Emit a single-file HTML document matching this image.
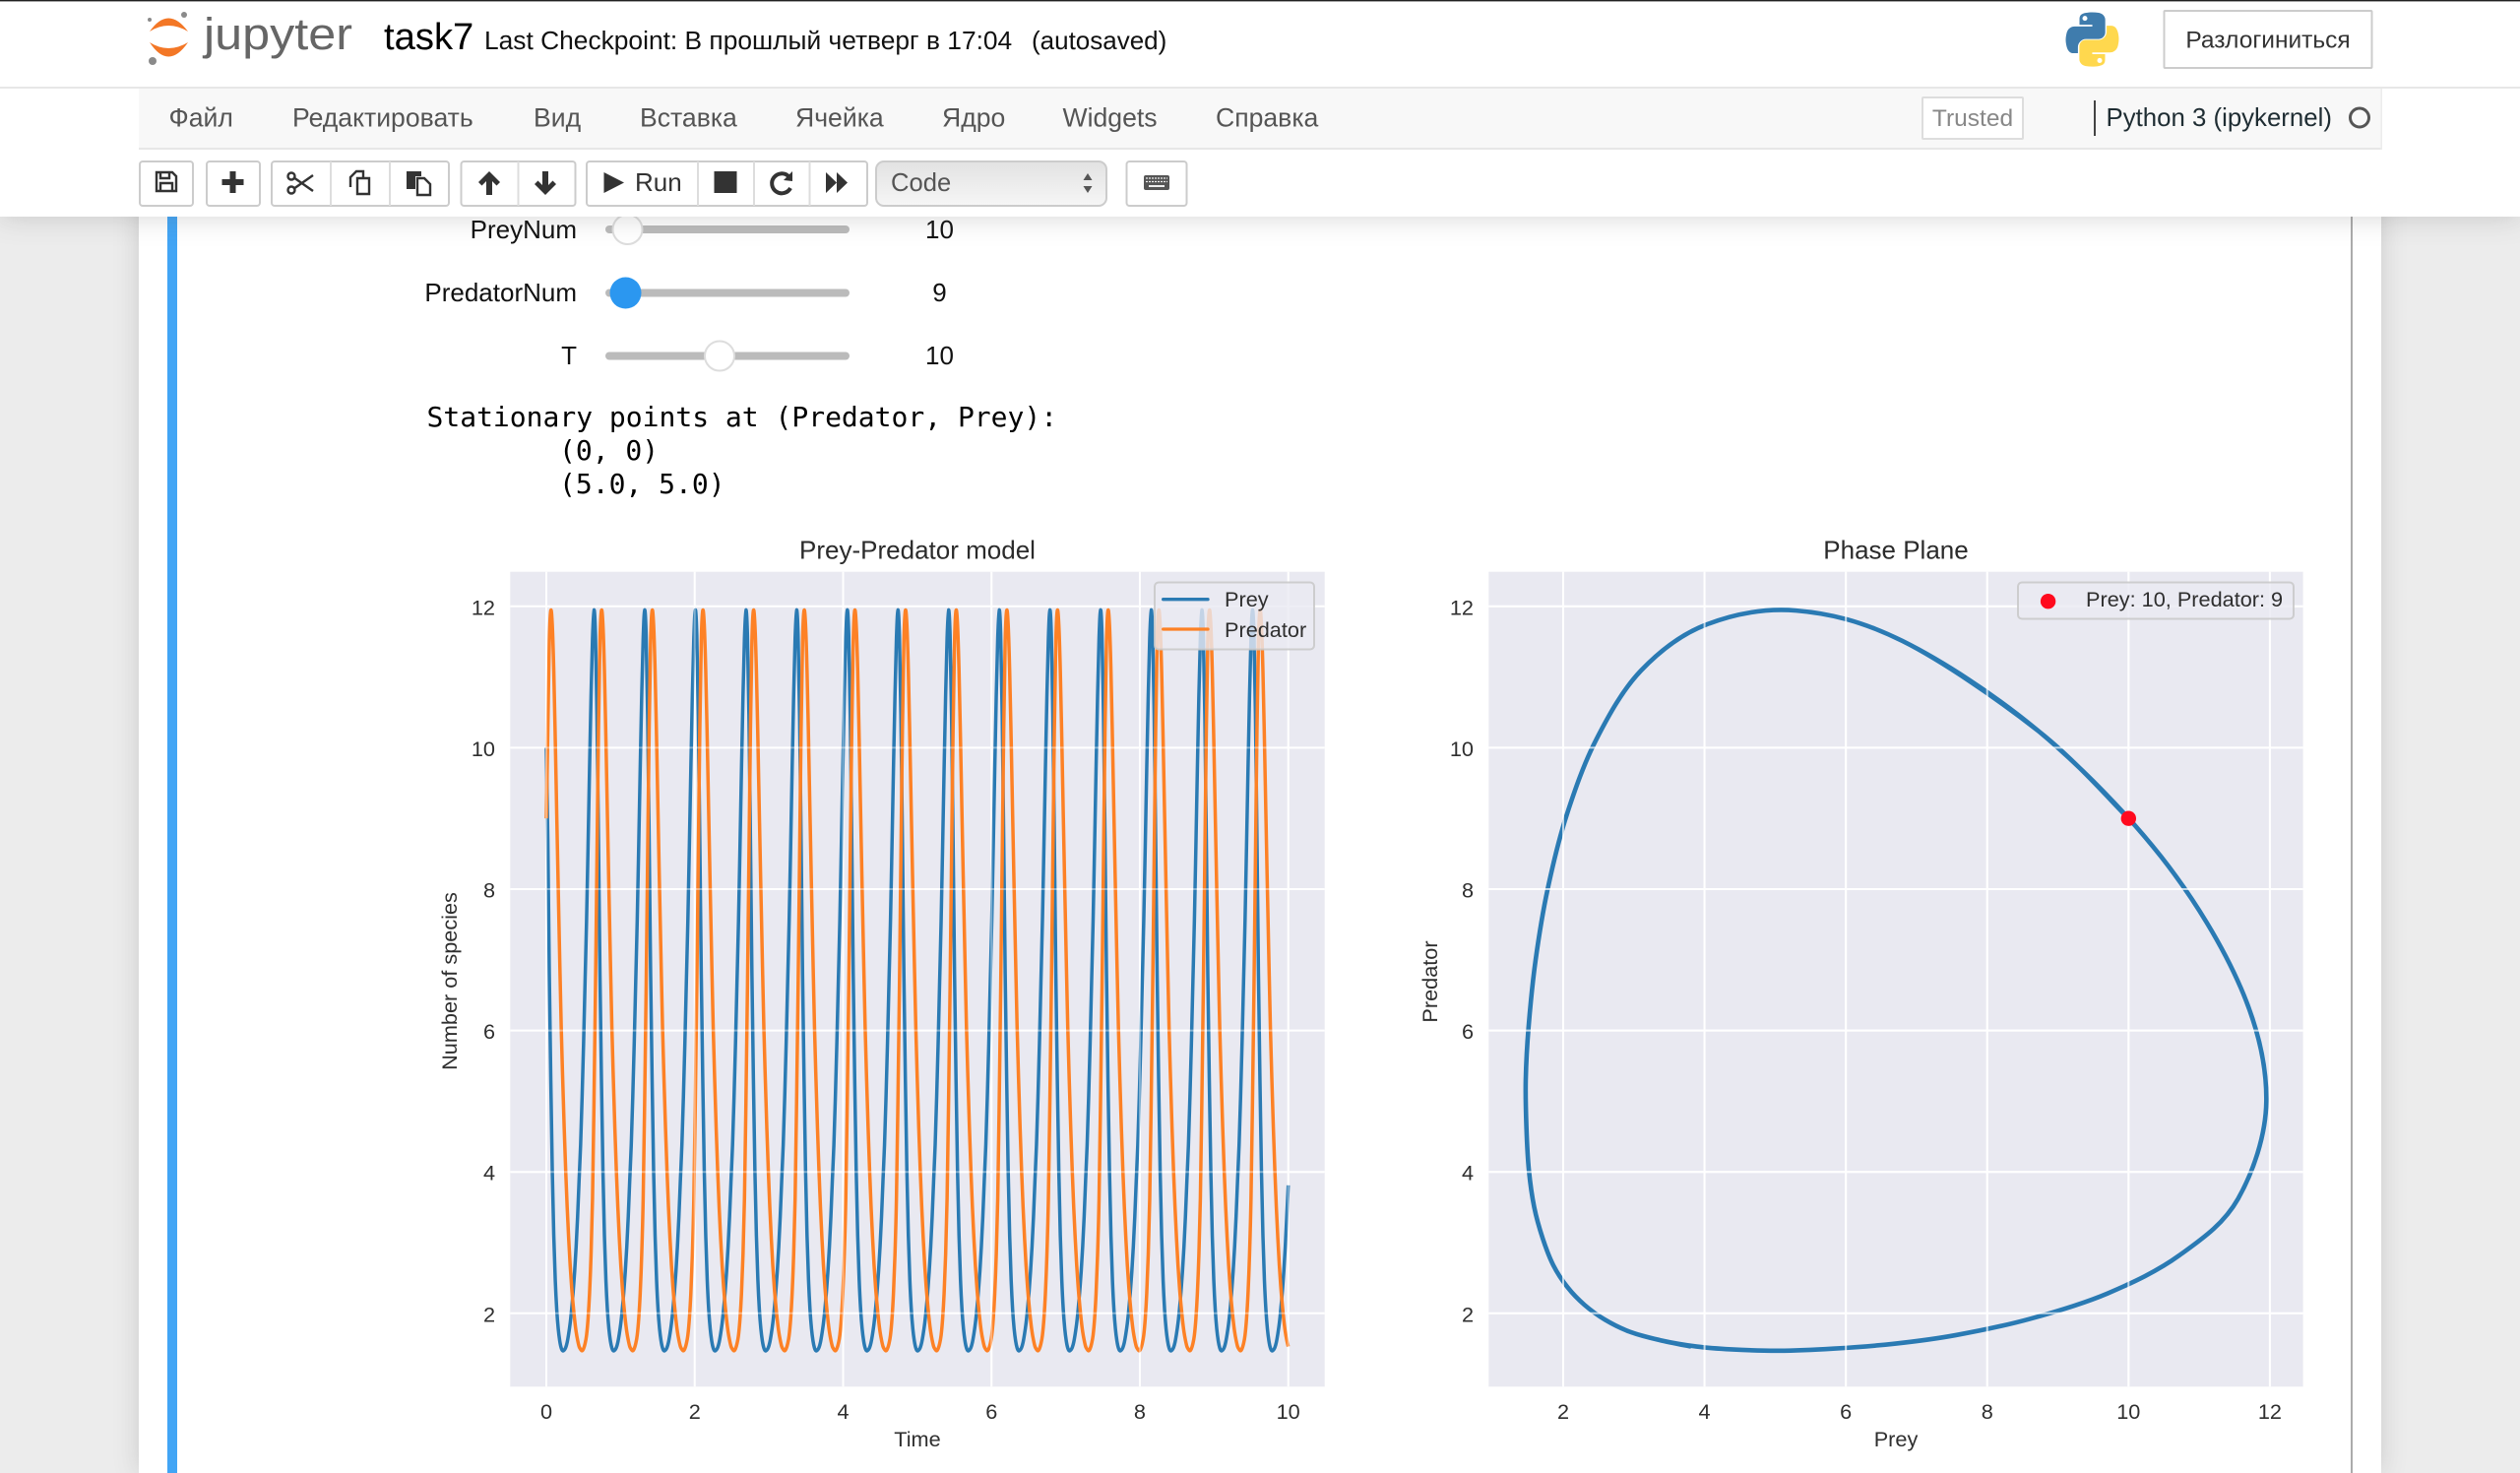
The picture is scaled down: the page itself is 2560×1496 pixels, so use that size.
<!DOCTYPE html>
<html lang="ru">
<head>
<meta charset="utf-8">
<title>task7 - Jupyter Notebook</title>
<style>
html,body{margin:0;padding:0;width:2560px;height:1496px;overflow:hidden;background:#ececec;font-family:"Liberation Sans",sans-serif}
#container{position:absolute;left:141px;top:0;width:2278px;height:1496px;background:#fff;box-shadow:0 0 24px rgba(87,87,87,.22)}
#content{position:absolute;left:0;top:0}
#header{position:absolute;left:0;top:0;width:2560px;height:220px;background:#fff;box-shadow:0 0 26px rgba(87,87,87,.25)}
#headerSvg{position:absolute;left:0;top:0}
text{font-family:"Liberation Sans",sans-serif}
.menu{font-size:26.6px;fill:#555}
.tick{font-size:21.7px;fill:#2f2f2f}
.lbl{font-size:21.7px;fill:#2f2f2f}
.ttl{font-size:26px;fill:#2b2b2b}
.ctl{font-size:26px;fill:#111}
.mono{font-family:"DejaVu Sans Mono",monospace;font-size:28px;fill:#000}
.btn{fill:#fff;stroke:#ccc;stroke-width:2}
.sep{stroke:#ddd;stroke-width:2}
.ic{fill:#333}
.ico{fill:none;stroke:#333;stroke-width:2.4}
</style>
</head>
<body>
<div id="container"></div>
<svg id="content" width="2560" height="1496" viewBox="0 0 2560 1496">
  <rect x="170" y="200" width="10" height="1296" fill="#42a5f5"/>
  <rect x="2388" y="200" width="2" height="1296" fill="#ababab"/>

  <g>
    <text class="ctl" x="586" y="242" text-anchor="end">PreyNum</text>
    <rect x="615" y="229" width="248" height="8" rx="4" fill="#bbb"/>
    <circle cx="637.5" cy="233" r="15" fill="#fff" stroke="#ddd" stroke-width="2"/>
    <text class="ctl" x="954.5" y="242" text-anchor="middle">10</text>
  </g>
  <g>
    <text class="ctl" x="586" y="306" text-anchor="end">PredatorNum</text>
    <rect x="615" y="293.5" width="248" height="8" rx="4" fill="#bbb"/>
    <circle cx="635.5" cy="297.5" r="16" fill="#2b97f0"/>
    <text class="ctl" x="954.5" y="306" text-anchor="middle">9</text>
  </g>
  <g>
    <text class="ctl" x="586" y="370" text-anchor="end">T</text>
    <rect x="615" y="357.5" width="248" height="8" rx="4" fill="#bbb"/>
    <circle cx="731" cy="361.5" r="15" fill="#fff" stroke="#ddd" stroke-width="2"/>
    <text class="ctl" x="954.5" y="370" text-anchor="middle">10</text>
  </g>

  <g>
    <text class="mono" x="433.5" y="433">Stationary points at (Predator, Prey):</text>
    <text class="mono" x="568" y="467">(0, 0)</text>
    <text class="mono" x="568" y="501">(5.0, 5.0)</text>
  </g>

  <g>
    <text class="ttl" x="932" y="567.5" text-anchor="middle">Prey-Predator model</text>
    <rect x="518.3" y="580.7" width="827.4" height="827.6" fill="#e9e9f1"/>
    <g id="gridUnderA"></g>
    <g id="linesA"></g>
    <g id="gridOverA"></g>
    <g id="ticksA"></g>
    <text class="lbl" x="932" y="1469" text-anchor="middle">Time</text>
    <text class="lbl" transform="translate(464 996.5) rotate(-90)" text-anchor="middle">Number of species</text>
    <g>
      <rect x="1173" y="591.5" width="162" height="68" rx="4" fill="rgba(234,234,242,.8)" stroke="rgba(200,200,200,.85)" stroke-width="2"/>
      <line x1="1181.7" x2="1227" y1="608.7" y2="608.7" stroke="#2a7ab3" stroke-width="3.3" stroke-linecap="round"/>
      <text class="tick" x="1244" y="616">Prey</text>
      <line x1="1181.7" x2="1227" y1="639" y2="639" stroke="#fd8125" stroke-width="3.3" stroke-linecap="round"/>
      <text class="tick" x="1244" y="647">Predator</text>
    </g>
  </g>

  <g>
    <text class="ttl" x="1926" y="567.5" text-anchor="middle">Phase Plane</text>
    <rect x="1512.3" y="580.7" width="827.3" height="827.6" fill="#e9e9f1"/>
    <g id="gridUnderB"></g>
    <g id="linesB"></g>
    <g id="gridOverB"></g>
    <g id="pointB"></g>
    <g id="ticksB"></g>
    <text class="lbl" x="1926" y="1469" text-anchor="middle">Prey</text>
    <text class="lbl" transform="translate(1460 997) rotate(-90)" text-anchor="middle">Predator</text>
    <g>
      <rect x="2050" y="591.5" width="280" height="37" rx="4" fill="rgba(234,234,242,.8)" stroke="rgba(200,200,200,.85)" stroke-width="2"/>
      <circle cx="2080.6" cy="610.7" r="7.7" fill="#ff0a1e"/>
      <text class="tick" x="2119" y="616">Prey: 10, Predator: 9</text>
    </g>
  </g>
</svg>

<div id="header"></div>
<svg id="headerSvg" width="2560" height="220" viewBox="0 0 2560 220">
  <rect x="0" y="0" width="2560" height="1.4" fill="#222"/>
  <g>
    <path d="M152 32Q171 5 191 32Q171 20 152 32Z" fill="#f37726"/>
    <path d="M152 43Q171 72 191 43Q171 55 152 43Z" fill="#f37726"/>
    <circle cx="187" cy="15" r="3" fill="#8a8a8a"/>
    <circle cx="152" cy="20" r="2" fill="#8a8a8a"/>
    <circle cx="155" cy="62" r="4" fill="#8a8a8a"/>
    <text x="207" y="50" font-size="45" fill="#666" textLength="151" lengthAdjust="spacingAndGlyphs">jupyter</text>
  </g>
  <text x="390" y="50" font-size="38.2" fill="#000">task7</text>
  <text x="492" y="50" font-size="26.35" fill="#111">Last Checkpoint: В прошлый четверг в 17:04</text>
  <text x="1048" y="50" font-size="26" fill="#111">(autosaved)</text>

  <g transform="translate(2098 12) scale(.5 .51)">
    <path d="M54.9 .9C50.3 .9 46 1.3 42.2 2C31 4 29 8.1 29 15.7V25.8H55.1V29.1H19.2C11.6 29.1 5 33.7 2.9 42.4C.5 52.4 .4 58.6 2.9 69C4.8 76.8 9.2 82.4 16.8 82.4H25.8V70.4C25.8 61.7 33.3 54.1 42.2 54.1H68.3C75.5 54.1 81.3 48.1 81.3 40.8V15.7C81.3 8.6 75.3 3.3 68.3 2C63.8 1.3 59.2 .9 54.9 .9Z" fill="#3f7cad"/>
    <path transform="rotate(180 55 55)" d="M54.9 .9C50.3 .9 46 1.3 42.2 2C31 4 29 8.1 29 15.7V25.8H55.1V29.1H19.2C11.6 29.1 5 33.7 2.9 42.4C.5 52.4 .4 58.6 2.9 69C4.8 76.8 9.2 82.4 16.8 82.4H25.8V70.4C25.8 61.7 33.3 54.1 42.2 54.1H68.3C75.5 54.1 81.3 48.1 81.3 40.8V15.7C81.3 8.6 75.3 3.3 68.3 2C63.8 1.3 59.2 .9 54.9 .9Z" fill="#ffd84e"/>
    <circle cx="40" cy="13" r="5" fill="#fff"/>
    <circle cx="70" cy="97" r="5" fill="#fff"/>
  </g>
  <g>
    <rect x="2198.5" y="11" width="211" height="58" fill="#fff" stroke="#ccc" stroke-width="2" rx="1"/>
    <text x="2304" y="48.5" font-size="24.5" fill="#333" text-anchor="middle">Разлогиниться</text>
  </g>

  <rect x="0" y="88" width="2560" height="2" fill="#e7e7e7"/>
  <rect x="141" y="90" width="2278" height="61" fill="#f8f8f8"/>
  <rect x="141" y="150" width="2278" height="2" fill="#e7e7e7"/>
  <rect x="2418.5" y="90" width="1.5" height="62" fill="#ececec"/>
  <text class="menu" x="171.5" y="128.5">Файл</text>
  <text class="menu" x="297" y="128.5">Редактировать</text>
  <text class="menu" x="542" y="128.5">Вид</text>
  <text class="menu" x="650" y="128.5">Вставка</text>
  <text class="menu" x="808" y="128.5">Ячейка</text>
  <text class="menu" x="957" y="128.5">Ядро</text>
  <text class="menu" x="1079.5" y="128.5">Widgets</text>
  <text class="menu" x="1235" y="128.5">Справка</text>
  <g>
    <rect x="1953" y="99" width="102" height="42" fill="#fff" stroke="#ddd" stroke-width="2" rx="1"/>
    <text x="2004" y="128" font-size="24.5" fill="#888" text-anchor="middle">Trusted</text>
  </g>
  <rect x="2127" y="102" width="2" height="36" fill="#444"/>
  <text x="2139.5" y="128" font-size="25.8" fill="#1f2d33">Python 3 (ipykernel)</text>
  <circle cx="2397" cy="119.5" r="9.5" fill="none" stroke="#555" stroke-width="3"/>

  <g>
    <rect class="btn" x="142" y="164" width="54" height="45" rx="3"/>
    <path class="ico" d="M159 175h16l4 4v15h-20zM163 175v6h9v-6M163 194v-8h12v8"/>
  </g>
  <g>
    <rect class="btn" x="210" y="164" width="54" height="45" rx="3"/>
    <path class="ic" d="M233.500 176h6v8h8v6h-8v8h-6v-8h-8v-6h8z" transform="translate(0 -2)"/>
  </g>
  <g>
    <rect class="btn" x="276" y="164" width="180" height="45" rx="3"/>
    <line class="sep" x1="336" x2="336" y1="164" y2="209"/>
    <line class="sep" x1="396" x2="396" y1="164" y2="209"/>
    <g>
      <path class="ico" d="M298 180L318 194M298 192L318 178" stroke-width="1.6"/>
      <circle class="ico" cx="296" cy="179" r="3.500" stroke-width="1.6"/>
      <circle class="ico" cx="296" cy="193" r="3.500" stroke-width="1.6"/>
    </g>
    <g>
      <path class="ico" d="M356 190V180l6-6h7v6M363 181h12v16h-12z" stroke-width="2"/>
    </g>
    <g>
      <path class="ic" d="M413 174h15v5h-6v13h-9z"/>
      <path class="ico" d="M424 181h7l6 6v11h-13z" stroke-width="2.200"/>
    </g>
  </g>
  <g>
    <rect class="btn" x="468.500" y="164" width="116" height="45" rx="3"/>
    <line class="sep" x1="526.500" x2="526.500" y1="164" y2="209"/>
    <path class="ic" d="M497 174l11 11-3.500 3.500-4.500-4.500v14h-6v-14l-4.500 4.500-3.500-3.500z"/>
    <path class="ic" d="M554 198l11-11-3.500-3.500-4.500 4.500v-14h-6v14l-4.500-4.500-3.500 3.500z"/>
  </g>
  <g>
    <rect class="btn" x="596" y="164" width="285" height="45" rx="3"/>
    <line class="sep" x1="709" x2="709" y1="164" y2="209"/>
    <line class="sep" x1="766" x2="766" y1="164" y2="209"/>
    <line class="sep" x1="822.500" x2="822.500" y1="164" y2="209"/>
    <path class="ic" d="M613.500 175L634 185.500L613.500 196Z"/>
    <text x="645" y="194" font-size="26" fill="#333">Run</text>
    <rect class="ic" x="725.500" y="174" width="23" height="22"/>
    <path d="M801 179A10 10 0 1 0 803 191" fill="none" stroke="#333" stroke-width="4"/>
    <path class="ic" d="M796 183L805 174V184Z"/>
    <path class="ic" d="M839 175L850 185.500L839 196ZM850 175L861 185.500L850 196Z"/>
  </g>
  <g>
    <defs><linearGradient id="selBg" x1="0" y1="0" x2="0" y2="1"><stop offset="0" stop-color="#e2e2e2"/><stop offset="1" stop-color="#f6f6f6"/></linearGradient></defs>
    <rect x="890" y="164" width="234" height="45" rx="8" fill="url(#selBg)" stroke="#ccc" stroke-width="2"/>
    <text x="905" y="194" font-size="25.6" fill="#555">Code</text>
    <path d="M1105 176l4.500 7h-9zM1105 196l4.500-7h-9z" fill="#555"/>
  </g>
  <g>
    <rect class="btn" x="1144.500" y="164" width="61" height="45" rx="3"/>
    <rect x="1162" y="178" width="26" height="15" rx="2" fill="#555"/>
    <path d="M1164 181h22M1164 184.500h22" stroke="#eee" stroke-width="1.200" stroke-dasharray="2 1" fill="none"/>
    <rect x="1167" y="188" width="16" height="2" fill="#eee"/>
  </g>
</svg>

<script>
const timeRange = [0, 10];
const axisTicks = [2, 4, 6, 8, 10, 12];
const timeTicks = [0, 2, 4, 6, 8, 10];
const phaseXTicks = [2, 4, 6, 8, 10, 12];
const startPrey = [10];
const startPredator = [9];
const prey = [
10,8.72,6.8,5.3,4.02,3.1,2.47,2.05,1.78,1.61,1.51,1.47,1.48,1.515,1.59,1.71,1.86,2.06,2.3,2.59,2.94,3.37,3.89,4.38,5.05,5.82,6.69,7.55,8.6,9.7,10.72,11.55,
11.95,11.59,10.46,8.72,6.8,5.3,4.02,3.1,2.47,2.05,1.78,1.61,1.51,1.47,1.48,1.515,1.59,1.71,1.86,2.06,2.3,2.59,2.94,3.37,3.89,4.38,5.05,5.82,6.69,7.55,8.6,9.7,10.72,11.55,
11.95,11.59,10.46,8.72,6.8,5.3,4.02,3.1,2.47,2.05,1.78,1.61,1.51,1.47,1.48,1.515,1.59,1.71,1.86,2.06,2.3,2.59,2.94,3.37,3.89,4.38,5.05,5.82,6.69,7.55,8.6,9.7,10.72,11.55,
11.95,11.59,10.46,8.72,6.8,5.3,4.02,3.1,2.47,2.05,1.78,1.61,1.51,1.47,1.48,1.515,1.59,1.71,1.86,2.06,2.3,2.59,2.94,3.37,3.89,4.38,5.05,5.82,6.69,7.55,8.6,9.7,10.72,11.55,
11.95,11.59,10.46,8.72,6.8,5.3,4.02,3.1,2.47,2.05,1.78,1.61,1.51,1.47,1.48,1.515,1.59,1.71,1.86,2.06,2.3,2.59,2.94,3.37,3.89,4.38,5.05,5.82,6.69,7.55,8.6,9.7,10.72,11.55,
11.95,11.59,10.46,8.72,6.8,5.3,4.02,3.1,2.47,2.05,1.78,1.61,1.51,1.47,1.48,1.515,1.59,1.71,1.86,2.06,2.3,2.59,2.94,3.37,3.89,4.38,5.05,5.82,6.69,7.55,8.6,9.7,10.72,11.55,
11.95,11.59,10.46,8.72,6.8,5.3,4.02,3.1,2.47,2.05,1.78,1.61,1.51,1.47,1.48,1.515,1.59,1.71,1.86,2.06,2.3,2.59,2.94,3.37,3.89,4.38,5.05,5.82,6.69,7.55,8.6,9.7,10.72,11.55,
11.95,11.59,10.46,8.72,6.8,5.3,4.02,3.1,2.47,2.05,1.78,1.61,1.51,1.47,1.48,1.515,1.59,1.71,1.86,2.06,2.3,2.59,2.94,3.37,3.89,4.38,5.05,5.82,6.69,7.55,8.6,9.7,10.72,11.55,
11.95,11.59,10.46,8.72,6.8,5.3,4.02,3.1,2.47,2.05,1.78,1.61,1.51,1.47,1.48,1.515,1.59,1.71,1.86,2.06,2.3,2.59,2.94,3.37,3.89,4.38,5.05,5.82,6.69,7.55,8.6,9.7,10.72,11.55,
11.95,11.59,10.46,8.72,6.8,5.3,4.02,3.1,2.47,2.05,1.78,1.61,1.51,1.47,1.48,1.515,1.59,1.71,1.86,2.06,2.3,2.59,2.94,3.37,3.89,4.38,5.05,5.82,6.69,7.55,8.6,9.7,10.72,11.55,
11.95,11.59,10.46,8.72,6.8,5.3,4.02,3.1,2.47,2.05,1.78,1.61,1.51,1.47,1.48,1.515,1.59,1.71,1.86,2.06,2.3,2.59,2.94,3.37,3.89,4.38,5.05,5.82,6.69,7.55,8.6,9.7,10.72,11.55,
11.95,11.59,10.46,8.72,6.8,5.3,4.02,3.1,2.47,2.05,1.78,1.61,1.51,1.47,1.48,1.515,1.59,1.71,1.86,2.06,2.3,2.59,2.94,3.37,3.89,4.38,5.05,5.82,6.69,7.55,8.6,9.7,10.72,11.55,
11.95,11.59,10.46,8.72,6.8,5.3,4.02,3.1,2.47,2.05,1.78,1.61,1.51,1.47,1.48,1.515,1.59,1.71,1.86,2.06,2.3,2.59,2.94,3.37,3.89,4.38,5.05,5.82,6.69,7.55,8.6,9.7,10.72,11.55,
11.95,11.59,10.46,8.72,6.8,5.3,4.02,3.1,2.47,2.05,1.78,1.61,1.51,1.47,1.48,1.515,1.59,1.71,1.86,2.06,2.3,2.59,2.94,3.37,3.89,4.38,5.05,5.82,6.69,7.55,8.6,9.7,10.72,11.55,
11.95,11.59,10.46,8.72,6.8,5.3,4.02,3.1,2.47,2.05,1.78,1.61,1.51,1.47,1.48,1.515,1.59,1.71,1.86,2.06,2.3,2.59,2.94,3.37,3.81
];
const predator = [
9,10.24,11.51,11.94,11.74,11.09,10.12,9.05,8,7,6.05,5.3,4.62,4.02,3.5,3.06,2.68,2.37,2.12,1.91,1.74,1.62,1.53,1.49,1.47,1.5,1.57,1.69,1.92,2.28,2.82,3.62,
5,6.6,8.46,10.24,11.51,11.94,11.74,11.09,10.12,9.05,8,7,6.05,5.3,4.62,4.02,3.5,3.06,2.68,2.37,2.12,1.91,1.74,1.62,1.53,1.49,1.47,1.5,1.57,1.69,1.92,2.28,2.82,3.62,
5,6.6,8.46,10.24,11.51,11.94,11.74,11.09,10.12,9.05,8,7,6.05,5.3,4.62,4.02,3.5,3.06,2.68,2.37,2.12,1.91,1.74,1.62,1.53,1.49,1.47,1.5,1.57,1.69,1.92,2.28,2.82,3.62,
5,6.6,8.46,10.24,11.51,11.94,11.74,11.09,10.12,9.05,8,7,6.05,5.3,4.62,4.02,3.5,3.06,2.68,2.37,2.12,1.91,1.74,1.62,1.53,1.49,1.47,1.5,1.57,1.69,1.92,2.28,2.82,3.62,
5,6.6,8.46,10.24,11.51,11.94,11.74,11.09,10.12,9.05,8,7,6.05,5.3,4.62,4.02,3.5,3.06,2.68,2.37,2.12,1.91,1.74,1.62,1.53,1.49,1.47,1.5,1.57,1.69,1.92,2.28,2.82,3.62,
5,6.6,8.46,10.24,11.51,11.94,11.74,11.09,10.12,9.05,8,7,6.05,5.3,4.62,4.02,3.5,3.06,2.68,2.37,2.12,1.91,1.74,1.62,1.53,1.49,1.47,1.5,1.57,1.69,1.92,2.28,2.82,3.62,
5,6.6,8.46,10.24,11.51,11.94,11.74,11.09,10.12,9.05,8,7,6.05,5.3,4.62,4.02,3.5,3.06,2.68,2.37,2.12,1.91,1.74,1.62,1.53,1.49,1.47,1.5,1.57,1.69,1.92,2.28,2.82,3.62,
5,6.6,8.46,10.24,11.51,11.94,11.74,11.09,10.12,9.05,8,7,6.05,5.3,4.62,4.02,3.5,3.06,2.68,2.37,2.12,1.91,1.74,1.62,1.53,1.49,1.47,1.5,1.57,1.69,1.92,2.28,2.82,3.62,
5,6.6,8.46,10.24,11.51,11.94,11.74,11.09,10.12,9.05,8,7,6.05,5.3,4.62,4.02,3.5,3.06,2.68,2.37,2.12,1.91,1.74,1.62,1.53,1.49,1.47,1.5,1.57,1.69,1.92,2.28,2.82,3.62,
5,6.6,8.46,10.24,11.51,11.94,11.74,11.09,10.12,9.05,8,7,6.05,5.3,4.62,4.02,3.5,3.06,2.68,2.37,2.12,1.91,1.74,1.62,1.53,1.49,1.47,1.5,1.57,1.69,1.92,2.28,2.82,3.62,
5,6.6,8.46,10.24,11.51,11.94,11.74,11.09,10.12,9.05,8,7,6.05,5.3,4.62,4.02,3.5,3.06,2.68,2.37,2.12,1.91,1.74,1.62,1.53,1.49,1.47,1.5,1.57,1.69,1.92,2.28,2.82,3.62,
5,6.6,8.46,10.24,11.51,11.94,11.74,11.09,10.12,9.05,8,7,6.05,5.3,4.62,4.02,3.5,3.06,2.68,2.37,2.12,1.91,1.74,1.62,1.53,1.49,1.47,1.5,1.57,1.69,1.92,2.28,2.82,3.62,
5,6.6,8.46,10.24,11.51,11.94,11.74,11.09,10.12,9.05,8,7,6.05,5.3,4.62,4.02,3.5,3.06,2.68,2.37,2.12,1.91,1.74,1.62,1.53,1.49,1.47,1.5,1.57,1.69,1.92,2.28,2.82,3.62,
5,6.6,8.46,10.24,11.51,11.94,11.74,11.09,10.12,9.05,8,7,6.05,5.3,4.62,4.02,3.5,3.06,2.68,2.37,2.12,1.91,1.74,1.62,1.53,1.49,1.47,1.5,1.57,1.69,1.92,2.28,2.82,3.62,
5,6.6,8.46,10.24,11.51,11.94,11.74,11.09,10.12,9.05,8,7,6.05,5.3,4.62,4.02,3.5,3.06,2.68,2.37,2.12,1.91,1.74,1.62,1.53
];

const SVG_NS = 'http://www.w3.org/2000/svg';
const timeX = function (t) { return 555 + t * 75.37; };
const valueY = function (v) { return 1333.8 - (v - 2) * 71.8; };
const phaseX = function (v) { return 1588 + (v - 2) * 71.79; };
const sampleTime = function (i) { return timeRange[0] + (timeRange[1] - timeRange[0]) * i / (prey.length - 1); };

function svgEl(tag, parentId) {
  const el = document.createElementNS(SVG_NS, tag);
  document.getElementById(parentId).appendChild(el);
  return el;
}

function smoothPath(xs, ys) {
  const n = xs.length;
  let d = 'M' + xs[0].toFixed(2) + ' ' + ys[0].toFixed(2);
  for (let i = 0; i < n - 1; i++) {
    const a = Math.max(i - 1, 0);
    const b = Math.min(i + 2, n - 1);
    const c1x = xs[i] + (xs[i + 1] - xs[a]) / 6;
    const c1y = ys[i] + (ys[i + 1] - ys[a]) / 6;
    const c2x = xs[i + 1] - (xs[b] - xs[i]) / 6;
    const c2y = ys[i + 1] - (ys[b] - ys[i]) / 6;
    d += 'C' + c1x.toFixed(2) + ' ' + c1y.toFixed(2) + ' ' + c2x.toFixed(2) + ' ' + c2y.toFixed(2) + ' ' + xs[i + 1].toFixed(2) + ' ' + ys[i + 1].toFixed(2);
  }
  return d;
}

function drawGrid(parentId, xTicks, yTicks, xFn, left, right, top, bottom, opacity) {
  xTicks.forEach(function (t) {
    const el = svgEl('line', parentId);
    
    
    el.setAttribute('x1', xFn(t));
    el.setAttribute('x2', xFn(t));
    el.setAttribute('y1', top);
    el.setAttribute('y2', bottom);
    el.setAttribute('stroke', '#fff');
    el.setAttribute('stroke-opacity', opacity);
    el.setAttribute('stroke-width', 2);
  });
  yTicks.forEach(function (v) {
    const el = svgEl('line', parentId);
    
    
    el.setAttribute('x1', left);
    el.setAttribute('x2', right);
    el.setAttribute('y1', valueY(v));
    el.setAttribute('y2', valueY(v));
    el.setAttribute('stroke', '#fff');
    el.setAttribute('stroke-opacity', opacity);
    el.setAttribute('stroke-width', 2);
  });
}

function drawTicks(parentId, xTicks, yTicks, xFn, labelRight) {
  xTicks.forEach(function (t) {
    const el = svgEl('text', parentId);
    
    
    el.setAttribute('class', 'tick');
    el.setAttribute('x', xFn(t));
    el.setAttribute('y', 1441);
    el.setAttribute('text-anchor', 'middle');
    el.textContent = String(t);
  });
  yTicks.forEach(function (v) {
    const el = svgEl('text', parentId);
    
    
    el.setAttribute('class', 'tick');
    el.setAttribute('x', labelRight);
    el.setAttribute('y', valueY(v) + 8.5);
    el.setAttribute('text-anchor', 'end');
    el.textContent = String(v);
  });
}

function drawLine(parentId, xs, ys, color, width, name) {
  const el = svgEl('path', parentId);
  
  
  el.setAttribute('d', smoothPath(xs, ys));
  el.setAttribute('fill', 'none');
  el.setAttribute('stroke', color);
  el.setAttribute('stroke-width', width);
  el.setAttribute('stroke-linejoin', 'round');
}

const timePixels = prey.map(function (_, i) { return timeX(sampleTime(i)); });
drawGrid('gridUnderA', timeTicks, axisTicks, timeX, 518.3, 1345.7, 580.7, 1408.3, 1);
drawLine('linesA', timePixels, prey.map(valueY), '#2a7ab3', 3.5, 'prey-line');
drawLine('linesA', timePixels, predator.map(valueY), '#fd8125', 3.5, 'predator-line');
drawGrid('gridOverA', timeTicks, axisTicks, timeX, 518.3, 1345.7, 580.7, 1408.3, 0.4);
drawTicks('ticksA', timeTicks, axisTicks, timeX, 503);

drawGrid('gridUnderB', phaseXTicks, axisTicks, phaseX, 1512.3, 2339.6, 580.7, 1408.3, 1);
drawLine('linesB', prey.map(phaseX), predator.map(valueY), '#2a7ab3', 4.6, 'phase-orbit-line');
drawGrid('gridOverB', phaseXTicks, axisTicks, phaseX, 1512.3, 2339.6, 580.7, 1408.3, 0.7);
drawTicks('ticksB', phaseXTicks, axisTicks, phaseX, 1497);

const startPoint = svgEl('circle', 'pointB');


startPoint.setAttribute('cx', phaseX(startPrey[0]));
startPoint.setAttribute('cy', valueY(startPredator[0]));
startPoint.setAttribute('r', 7.7);
startPoint.setAttribute('fill', '#ff0a1e');
</script>
</body>
</html>
